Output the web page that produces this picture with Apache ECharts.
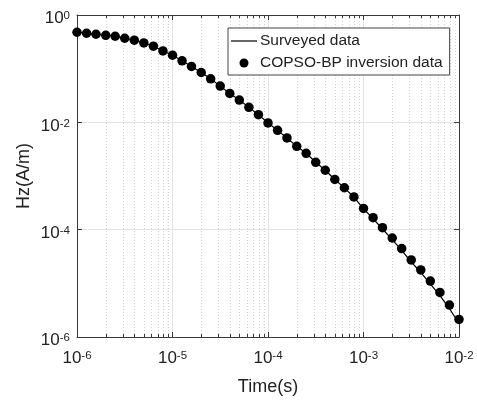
<!DOCTYPE html>
<html>
<head>
<meta charset="utf-8">
<script src="https://cdn.jsdelivr.net/npm/echarts@6/dist/echarts.min.js"></script>
<style>html,body{margin:0;padding:0;background:#fff;}#c{width:477px;height:401px;}</style>
</head>
<body>
<div id="c"></div>
<script>
var times = [1e-6,1.26e-6,1.58e-6,2e-6,2.51e-6,3.16e-6,3.98e-6,5.01e-6,6.31e-6,7.94e-6,
  1e-5,1.26e-5,1.58e-5,2e-5,2.51e-5,3.16e-5,3.98e-5,5.01e-5,6.31e-5,7.94e-5,
  1e-4,1.26e-4,1.58e-4,2e-4,2.51e-4,3.16e-4,3.98e-4,5.01e-4,6.31e-4,7.94e-4,
  1e-3,1.26e-3,1.58e-3,2e-3,2.51e-3,3.16e-3,3.98e-3,5.01e-3,6.31e-3,7.94e-3,1e-2];
var inversion = [0.477,0.457,0.438,0.419,0.402,0.369,0.339,0.302,0.262,0.214,
  0.178,0.140,0.110,0.0848,0.0647,0.0473,0.0345,0.0260,0.0190,0.0139,
  0.00973,0.00709,0.00512,0.00357,0.00265,0.00180,0.00128,0.000861,0.000604,0.000407,
  0.000249,0.000167,0.000109,6.99e-5,4.44e-5,2.73e-5,1.78e-5,1.10e-5,6.76e-6,3.93e-6,2.13e-6];
var surveyed = [0.477,0.457,0.438,0.419,0.402,0.369,0.339,0.302,0.262,0.214,
  0.178,0.140,0.110,0.0848,0.0647,0.0473,0.0345,0.0260,0.0190,0.0139,
  0.00973,0.00709,0.00512,0.00357,0.00265,0.00180,0.00128,0.000861,0.000600,0.000402,
  0.000245,0.000161,0.000103,6.5e-5,4.1e-5,2.5e-5,1.6e-5,9.8e-6,5.9e-6,3.4e-6,1.78e-6];
var minorMultipliers = [2,3,4,5,6,7,8,9];
var decades = [1e-6,1e-5,1e-4,1e-3];
var seriesNames = ['Surveyed data','COPSO-BP inversion data'];

var FONT = 'Liberation Sans, Arial, sans-serif';
var AXIS_COLOR = '#3a3a3a';
function pair(xs, ys){ return xs.map(function(x,i){ return [x, ys[i]]; }); }
function powLabel(v){
  var e = Math.round(Math.log10(v));
  return '{b|10}{s|' + e + '}';
}
var rich = {
  b: {fontSize: 17, lineHeight: 17, padding: [7,0,0,0], fontFamily: FONT, color: '#222'},
  s: {fontSize: 11.5, lineHeight: 11.5, padding: [3.5,0,0,0], verticalAlign: 'top', fontFamily: FONT, color: '#222'}
};
var minorX = [];
decades.forEach(function(d){ minorMultipliers.forEach(function(m){ minorX.push([d*m, 1e-6]); }); });

var axisLineStyle = {color: AXIS_COLOR, width: 1};
var chart = echarts.init(document.getElementById('c'), null, {renderer: 'canvas'});
chart.setOption({
  animation: false,
  backgroundColor: '#fff',
  grid: {left: 77, right: 18, top: 15, bottom: 63},
  legend: {
    orient: 'vertical', left: 228, top: 28,
    backgroundColor: '#fff', borderColor: '#444', borderWidth: 1, borderRadius: 0,
    padding: [5, 7, 4, 3], itemWidth: 26, itemHeight: 9, itemGap: 6,
    textStyle: {fontSize: 15.5, fontFamily: FONT, color: '#222', padding: [0,0,0,-2]},
    data: [
      {name: seriesNames[0], icon: 'path://M0,0 L26,0 L26,1.2 L0,1.2 Z', itemStyle: {color: '#000'}},
      {name: seriesNames[1], icon: 'circle', itemStyle: {color: '#000', opacity: 1}}
    ]
  },
  xAxis: [{
    type: 'log', min: 1e-6, max: 1e-2, logBase: 10,
    name: 'Time(s)', nameLocation: 'middle', nameGap: 41, nameMoveOverlap: false,
    nameTextStyle: {fontSize: 18, fontFamily: FONT, color: '#222'},
    axisLine: {lineStyle: axisLineStyle},
    axisTick: {inside: true, length: 5, lineStyle: axisLineStyle},
    axisLabel: {formatter: powLabel, rich: rich, margin: 9},
    splitLine: {show: true, lineStyle: {color: '#e3e3e3', width: 1}}
  },{
    type: 'log', min: 1e-6, max: 1e-2, position: 'top',
    axisLine: {lineStyle: axisLineStyle},
    axisTick: {inside: true, length: 5, lineStyle: axisLineStyle},
    axisLabel: {show: false}, splitLine: {show: false}
  }],
  yAxis: [{
    type: 'log', min: 1e-6, max: 1, splitNumber: 3, interval: 2,
    name: 'Hz(A/m)', nameLocation: 'middle', nameGap: 44, nameMoveOverlap: false,
    nameTextStyle: {fontSize: 18, fontFamily: FONT, color: '#222'},
    axisLine: {show: true, lineStyle: axisLineStyle},
    axisTick: {show: true, inside: true, length: 5, lineStyle: axisLineStyle},
    axisLabel: {formatter: powLabel, rich: rich, margin: 7},
    splitLine: {show: true, lineStyle: {color: '#e3e3e3', width: 1}}
  },{
    type: 'log', min: 1e-6, max: 1, splitNumber: 3, interval: 2, position: 'right',
    axisLine: {show: true, lineStyle: axisLineStyle},
    axisTick: {show: true, inside: true, length: 5, lineStyle: axisLineStyle},
    axisLabel: {show: false}, splitLine: {show: false}
  }],
  series: [{
    name: 'minorGrid', type: 'custom', silent: true, z: 1,
    data: minorX,
    encode: {x: 0, y: 1},
    renderItem: function(params, api){
      var x = api.value(0);
      var top = api.coord([x, 1]);
      var bot = api.coord([x, 1e-6]);
      var px = Math.round(top[0]) + 0.5;
      return {
        type: 'group',
        children: [{
          type: 'line',
          shape: {x1: px, y1: top[1], x2: px, y2: bot[1]},
          style: {stroke: '#d4d4d4', lineWidth: 1, lineDash: [1, 2]}
        },{
          type: 'line',
          shape: {x1: px, y1: bot[1], x2: px, y2: bot[1] - 3},
          style: {stroke: AXIS_COLOR, lineWidth: 1}
        },{
          type: 'line',
          shape: {x1: px, y1: top[1], x2: px, y2: top[1] + 3},
          style: {stroke: AXIS_COLOR, lineWidth: 1}
        }]
      };
    }
  },{
    name: seriesNames[0], type: 'line', symbol: 'none', showSymbol: false,
    data: pair(times, surveyed), z: 3,
    lineStyle: {color: '#000', width: 1.2}, itemStyle: {color: '#000'}
  },{
    name: seriesNames[1], type: 'scatter', symbol: 'circle', symbolSize: 9.5,
    data: pair(times, inversion), z: 4,
    itemStyle: {color: '#000', opacity: 1}
  }]
});
</script>
</body>
</html>
